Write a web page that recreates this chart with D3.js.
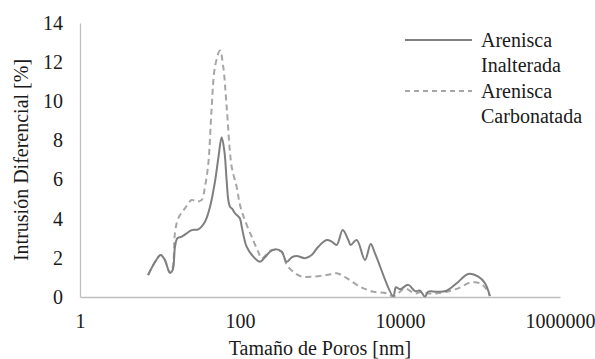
<!DOCTYPE html>
<html>
<head>
<meta charset="utf-8">
<script src="https://cdn.jsdelivr.net/npm/d3@7"></script>
<style>
  body { margin: 0; background: #fff; }
  svg { display: block; }
</style>
</head>
<body>
<svg id="chart" width="595" height="359" font-family="Liberation Serif" font-size="20"></svg>
<script>
// Pore size (nm) and differential intrusion (%)
const sizeInalterada = [7.1, 8.7, 10.2, 11.5, 13.3, 14.4, 15.4, 16.5, 18.7, 21.5, 24.9, 30.1, 36.5, 42.2, 48.7, 54, 59, 64, 68, 71.4, 75, 80, 86.6, 100, 105, 121, 147, 178, 205, 237, 280, 332, 383, 443, 511, 649, 787, 953, 1213, 1400, 1617, 1922, 2259, 2420, 2876, 3652, 4305, 4870, 8250, 8900, 10000, 12700, 15400, 17800, 20500, 22600, 28800, 38300, 51100, 71400, 95300, 115500, 133000];
const valInalterada  = [1.12, 1.8, 2.15, 1.89, 1.24, 1.38, 2.57, 3.0, 3.08, 3.25, 3.42, 3.46, 3.85, 4.61, 5.9, 7.2, 8.16, 7.4, 5.98, 4.96, 4.61, 4.5, 4.28, 4.0, 3.6, 2.57, 2.06, 1.8, 2.03, 2.31, 2.44, 2.31, 1.8, 2.03, 2.1, 1.98, 2.15, 2.57, 2.91, 2.83, 2.66, 3.42, 2.91, 2.66, 2.91, 1.89, 2.71, 2.23, 0.05, 0.5, 0.4, 0.62, 0.3, 0.32, 0.02, 0.27, 0.27, 0.32, 0.7, 1.18, 1.04, 0.7, 0.05];

const sizeCarbonatada = [7.1, 8.7, 10.2, 11.5, 13.3, 14.4, 15.4, 16.9, 20.5, 24.9, 28.7, 33.2, 36.5, 40.2, 44.3, 48.7, 56.2, 61.7, 68.1, 78.7, 90.8, 100, 115, 140, 169, 187, 249, 332, 383, 464, 590, 824, 1213, 1617, 2157, 3162, 4637, 6820, 8250, 10000, 11500, 15400, 18500, 23000, 28800, 38300, 53500, 75000, 100000, 121000, 133000];
const valCarbonatada  = [1.12, 1.8, 2.15, 1.89, 1.24, 1.5, 3.3, 4.02, 4.53, 4.96, 4.87, 4.96, 5.64, 6.83, 9.72, 11.77, 12.59, 11.77, 9.72, 6.66, 5.64, 4.7, 3.93, 3.08, 2.31, 1.98, 2.4, 2.31, 1.64, 1.29, 1.04, 1.04, 1.12, 1.21, 0.96, 0.53, 0.27, 0.19, 0.03, 0.27, 0.44, 0.18, 0.27, 0.18, 0.18, 0.27, 0.44, 0.73, 0.7, 0.39, 0.05];

const xTicks = [1, 100, 10000, 1000000];
const yTicks = [0, 2, 4, 6, 8, 10, 12, 14];
const seriesNames = ["Arenisca Inalterada", "Arenisca Carbonatada"];

const svg = d3.select("#chart");
const mLeft = 80, mRight = 560, mTop = 23, mBottom = 297;

const x = d3.scaleLog().domain([1, 1000000]).range([mLeft, mRight]);
const y = d3.scaleLinear().domain([0, 14]).range([mBottom, mTop]);

const axisColor = "#bfbfbf";
const textColor = "#1a1a1a";

// Y axis
const gy = svg.append("g").attr("transform", `translate(${mLeft},0)`)
  .call(d3.axisLeft(y).tickValues(yTicks).tickSize(0).tickPadding(17).tickFormat(d3.format("d")));
gy.attr("font-family", "Liberation Serif").attr("font-size", 20);
gy.select(".domain").attr("stroke", axisColor).attr("stroke-width", 1.3);
gy.selectAll("text").attr("fill", textColor);

// X axis
const gx = svg.append("g").attr("transform", `translate(0,${mBottom})`)
  .call(d3.axisBottom(x).tickValues(xTicks).tickSize(0).tickPadding(17).tickFormat(d3.format("d")));
gx.attr("font-family", "Liberation Serif").attr("font-size", 20);
gx.select(".domain").attr("stroke", axisColor).attr("stroke-width", 1.3);
gx.selectAll("text").attr("fill", textColor);

// Lines
const line = d3.line().x(d => x(d[0])).y(d => y(d[1])).curve(d3.curveCatmullRom.alpha(0.5));

const dataC = sizeCarbonatada.map((s, i) => [s, valCarbonatada[i]]);
const dataI = sizeInalterada.map((s, i) => [s, valInalterada[i]]);

svg.append("path").datum(dataC)
  .attr("d", line).attr("fill", "none")
  .attr("stroke", "#a6a6a6").attr("stroke-width", 2).attr("stroke-dasharray", "6,4");

svg.append("path").datum(dataI)
  .attr("d", line).attr("fill", "none")
  .attr("stroke", "#7f7f7f").attr("stroke-width", 2);

// Axis titles
svg.append("text").attr("x", 320).attr("y", 355).attr("text-anchor", "middle")
  .attr("fill", textColor).text("Tamaño de Poros [nm]");
svg.append("text").attr("transform", "translate(28,160) rotate(-90)").attr("text-anchor", "middle")
  .attr("fill", textColor).text("Intrusión Diferencial [%]");

// Legend
const legend = svg.append("g");
const legendItems = [
  { lines: ["Arenisca", "Inalterada"], y: 40, stroke: "#7f7f7f", dash: null },
  { lines: ["Arenisca", "Carbonatada"], y: 91, stroke: "#a6a6a6", dash: "5,4" }
];
legendItems.forEach((it) => {
  legend.append("line").attr("x1", 405).attr("x2", 472).attr("y1", it.y).attr("y2", it.y)
    .attr("stroke", it.stroke).attr("stroke-width", 2).attr("stroke-dasharray", it.dash);
  it.lines.forEach((t, j) => {
    legend.append("text").attr("x", 481).attr("y", it.y + 7 + j * 25)
      .attr("fill", textColor).text(t);
  });
});
</script>
</body>
</html>
